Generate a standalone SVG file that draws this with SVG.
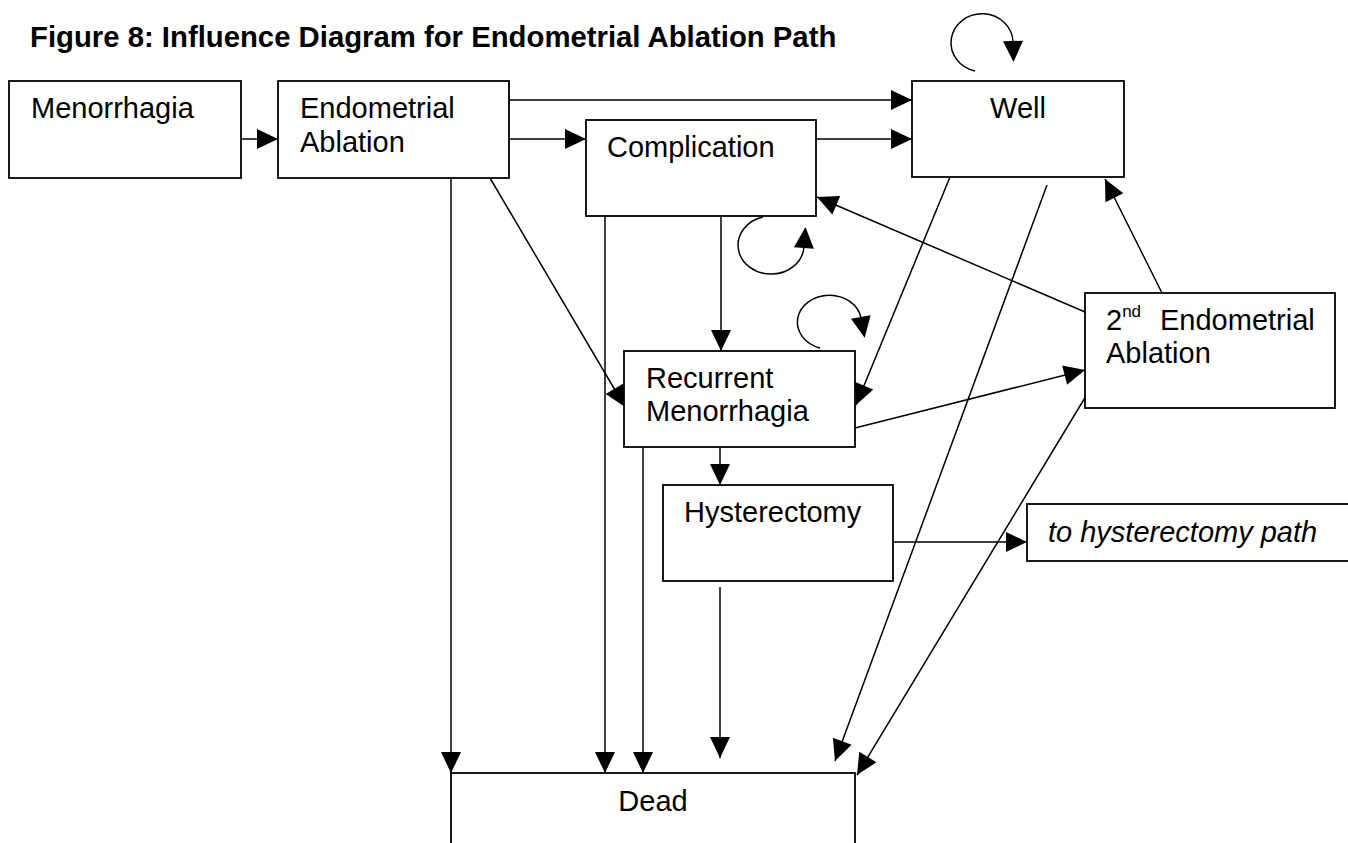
<svg xmlns="http://www.w3.org/2000/svg" width="1348" height="843" viewBox="0 0 1348 843">
<style>
.box{fill:#fff;stroke:#000;stroke-width:1.8}
.t{font-family:"Liberation Sans",Arial,sans-serif;font-size:29px;fill:#000}
.ti{font-family:"Liberation Sans",Arial,sans-serif;font-size:29.3px;font-weight:bold;fill:#000}
.it{font-style:italic}
.sup{font-size:17px}
.c{fill:none;stroke:#000;stroke-width:1.5}
.arr{marker-end:url(#ah)}
.loop{marker-end:url(#ah0)}
</style>
<defs>
<marker id="ah" markerUnits="userSpaceOnUse" markerWidth="21" markerHeight="20" refX="21" refY="10" orient="auto" overflow="visible">
<path d="M0,0 L21,10 L0,20 z" fill="#000"/>
</marker>
<marker id="ah0" markerUnits="userSpaceOnUse" markerWidth="21" markerHeight="20" refX="1" refY="10" orient="auto" overflow="visible">
<path d="M0,0 L21,10 L0,20 z" fill="#000"/>
</marker>
</defs>
<rect width="1348" height="843" fill="#fff"/>
<text class="ti" x="30" y="47">Figure 8: Influence Diagram for Endometrial Ablation Path</text>

<g id="connectors">
<line class="c arr" x1="241" y1="139" x2="278" y2="139"/>
<line class="c arr" x1="509" y1="100" x2="912" y2="100"/>
<line class="c arr" x1="509" y1="139" x2="586" y2="139"/>
<line class="c arr" x1="816" y1="139" x2="912" y2="139"/>
<line class="c arr" x1="451" y1="178" x2="451" y2="773"/>
<line class="c arr" x1="490" y1="178" x2="625" y2="407"/>
<line class="c arr" x1="605" y1="216" x2="605" y2="773"/>
<line class="c arr" x1="721" y1="216" x2="721" y2="351"/>
<line class="c arr" x1="643" y1="447" x2="643" y2="773"/>
<line class="c arr" x1="720" y1="447" x2="720" y2="485"/>
<line class="c arr" x1="720" y1="587" x2="720" y2="758"/>
<line class="c arr" x1="893" y1="542" x2="1027" y2="542"/>
<line class="c arr" x1="950" y1="177" x2="856" y2="405"/>
<line class="c arr" x1="1047" y1="185" x2="835" y2="761"/>
<line class="c arr" x1="1086" y1="396" x2="857" y2="775"/>
<line class="c arr" x1="855" y1="428" x2="1085" y2="370"/>
<line class="c arr" x1="1085" y1="312" x2="817" y2="197"/>
<line class="c arr" x1="1162" y1="293" x2="1105" y2="179"/>
<path class="c loop" d="M975,71 A31,29 0 1 1 1013,42"/>
<path class="c loop" d="M763,217 A33,29 0 1 0 804,247"/>
<path class="c loop" d="M820,348 A32,27 0 1 1 861,318"/>
</g>

<g id="menorrhagia">
<rect class="box" x="9" y="81" width="232" height="97"/>
<text class="t" x="31" y="118">Menorrhagia</text>
</g>
<g id="endometrial-ablation">
<rect class="box" x="278" y="81" width="231" height="97"/>
<text class="t" x="300" y="118">Endometrial</text>
<text class="t" x="300" y="152">Ablation</text>
</g>
<g id="complication">
<rect class="box" x="586" y="120" width="230" height="96"/>
<text class="t" x="607" y="157">Complication</text>
</g>
<g id="well">
<rect class="box" x="912" y="81" width="212" height="96"/>
<text class="t" x="1018" y="118" text-anchor="middle">Well</text>
</g>
<g id="second-ablation">
<rect class="box" x="1085" y="293" width="250" height="115"/>
<text class="t" x="1106" y="330">2<tspan class="sup" dy="-13">nd</tspan><tspan x="1160" dy="13">Endometrial</tspan></text>
<text class="t" x="1106" y="363">Ablation</text>
</g>
<g id="recurrent-menorrhagia">
<rect class="box" x="624" y="351" width="231" height="96"/>
<text class="t" x="646" y="388">Recurrent</text>
<text class="t" x="646" y="421">Menorrhagia</text>
</g>
<g id="hysterectomy">
<rect class="box" x="663" y="485" width="230" height="96"/>
<text class="t" x="684" y="522">Hysterectomy</text>
</g>
<g id="hysterectomy-path">
<rect class="box" x="1027" y="504" width="340" height="57"/>
<text class="t it" x="1048" y="542">to hysterectomy path</text>
</g>
<g id="dead">
<rect class="box" x="451" y="773" width="404" height="100"/>
<text class="t" x="653" y="811" text-anchor="middle">Dead</text>
</g>
</svg>
